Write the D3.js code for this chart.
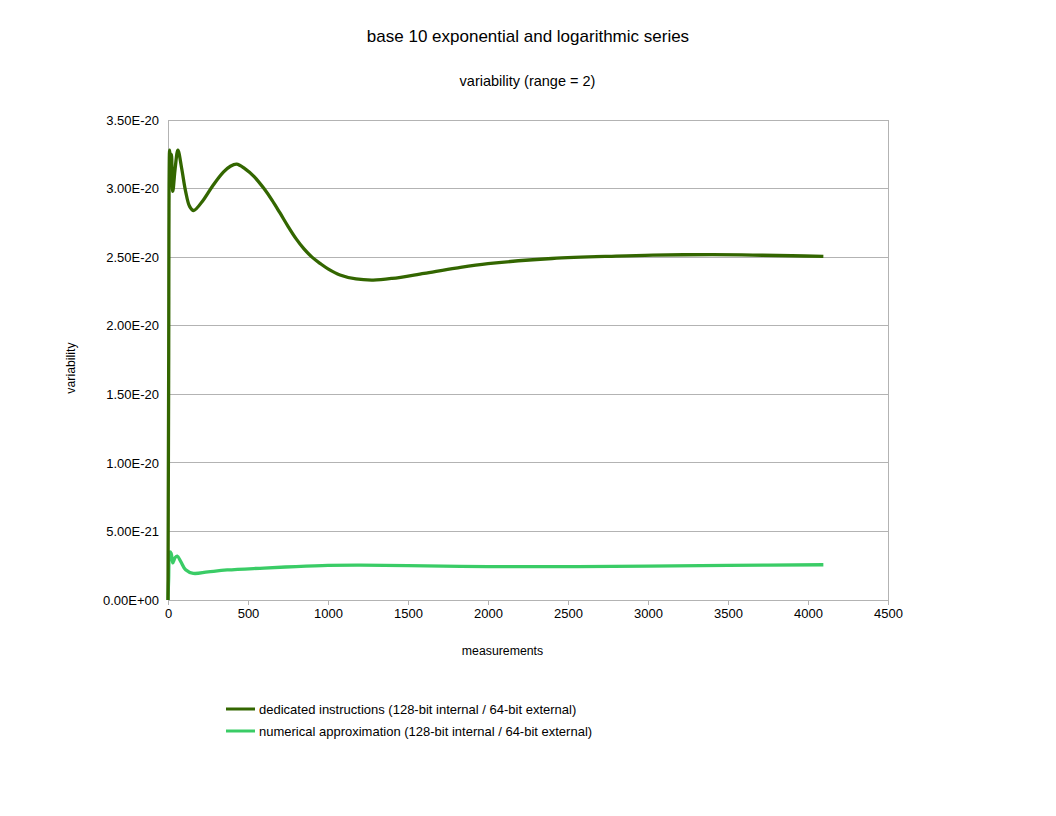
<!DOCTYPE html>
<html><head><meta charset="utf-8">
<script src="https://cdn.jsdelivr.net/npm/d3@7"></script>
<style>body{margin:0;background:#fff}svg{display:block}text{font-family:"Liberation Sans",Arial,sans-serif;fill:#000}</style>
</head><body>
<svg id="c" width="1056" height="816"></svg>
<script>
const title = "base 10 exponential and logarithmic series";
const subtitle = "variability (range = 2)";
const xTitle = "measurements";
const yTitle = "variability";
const seriesNames = ["dedicated instructions (128-bit internal / 64-bit external)", "numerical approximation (128-bit internal / 64-bit external)"];
const seriesColors = ["#336600", "#3acc66"];
const xTicks = [0,500,1000,1500,2000,2500,3000,3500,4000,4500];
const yTicks = [0,5e-21,1e-20,1.5e-20,2e-20,2.5e-20,3e-20,3.5e-20];
const yTickLabels = ["0.00E+00","5.00E-21","1.00E-20","1.50E-20","2.00E-20","2.50E-20","3.00E-20","3.50E-20"];

// dedicated instructions (units 1e-20)
const darkX = [0,4,10,16,22,30,45,62,85,110,135,160,221,283,346,390,429,480,540,600,650,700,750,800,850,900,950,1000,1075,1175,1283,1400,1600,1800,2000,2400,2800,3031,3400,3656,3900,4096];
const darkY = [0,1.6,3.28,3.1,3.25,2.98,3.15,3.28,3.15,2.98,2.87,2.84,2.917,3.026,3.12,3.163,3.178,3.145,3.085,3.0,2.916,2.822,2.725,2.635,2.56,2.5,2.455,2.415,2.37,2.341,2.333,2.345,2.382,2.42,2.452,2.49,2.508,2.515,2.518,2.515,2.51,2.506];
// numerical approximation (units 1e-21)
const lightX = [0,4,12,20,30,45,58,80,110,158,250,370,600,800,1000,1200,1500,2000,2500,3000,3500,4096];
const lightY = [0,1.5,3.5,3.4,2.7,3.1,3.2,2.8,2.2,1.94,2.05,2.19,2.33,2.44,2.52,2.54,2.5,2.44,2.43,2.47,2.52,2.57];

const svg = d3.select("#c");
const L=168,R=888,T=120,B=600;
const x = d3.scaleLinear().domain([0,4500]).range([L,R]);
const y = d3.scaleLinear().domain([0,3.5e-20]).range([B,T]);

svg.append("text").attr("x",528).attr("y",42).attr("text-anchor","middle").attr("font-size","17px").text(title);
svg.append("text").attr("x",527.5).attr("y",86).attr("text-anchor","middle").attr("font-size","14.5px").text(subtitle);

// grid
svg.append("g").selectAll("line").data(yTicks).join("line")
  .attr("x1",L).attr("x2",R).attr("y1",d=>y(d)).attr("y2",d=>y(d))
  .attr("stroke","#b3b3b3").attr("stroke-width",1).attr("shape-rendering","crispEdges");
svg.append("line").attr("x1",R).attr("x2",R).attr("y1",T).attr("y2",B).attr("stroke","#b3b3b3").attr("shape-rendering","crispEdges");

const yAxis = d3.axisLeft(y).tickValues(yTicks).tickSize(0).tickPadding(9).tickFormat((d,i)=>yTickLabels[i]);
const gy = svg.append("g").attr("transform",`translate(${L},0)`).call(yAxis);
gy.select(".domain").attr("stroke","#b3b3b3").attr("shape-rendering","crispEdges");
gy.selectAll("text").attr("font-size","13px").attr("font-family","Liberation Sans, Arial, sans-serif").attr("fill","#000");

const xAxis = d3.axisBottom(x).tickValues(xTicks).tickSize(5).tickPadding(4).tickFormat(d3.format("d"));
const gx = svg.append("g").attr("transform",`translate(0,${B})`).call(xAxis);
gx.select(".domain").attr("stroke","#b3b3b3").attr("shape-rendering","crispEdges");
gx.selectAll(".tick line").attr("stroke","#b3b3b3").attr("shape-rendering","crispEdges");
gx.selectAll("text").attr("font-size","13px").attr("font-family","Liberation Sans, Arial, sans-serif").attr("fill","#000");

svg.append("text").attr("x",502.5).attr("y",655).attr("text-anchor","middle").attr("font-size","12.3px").text(xTitle);
svg.append("text").attr("transform","translate(75,368) rotate(-90)").attr("text-anchor","middle").attr("font-size","12.3px").text(yTitle);

const line = d3.line().curve(d3.curveCatmullRom.alpha(0.5)).x(d=>x(d[0])).y(d=>y(d[1]));
const dark = darkX.map((v,i)=>[v,darkY[i]*1e-20]);
const light = lightX.map((v,i)=>[v,lightY[i]*1e-21]);
svg.append("path").datum(light).attr("d",line).attr("fill","none").attr("stroke",seriesColors[1]).attr("stroke-width",3.3).attr("stroke-linejoin","round");
svg.append("path").datum(dark).attr("d",line).attr("fill","none").attr("stroke",seriesColors[0]).attr("stroke-width",3.3).attr("stroke-linejoin","round");

const lg = svg.append("g");
seriesNames.forEach((n,i)=>{
  const yy = 709 + i*22;
  lg.append("line").attr("x1",226).attr("x2",255).attr("y1",yy).attr("y2",yy).attr("stroke",seriesColors[i]).attr("stroke-width",3);
  lg.append("text").attr("x",259).attr("y",yy+4.5).attr("font-size","13px").text(n);
});
</script>
</body></html>
